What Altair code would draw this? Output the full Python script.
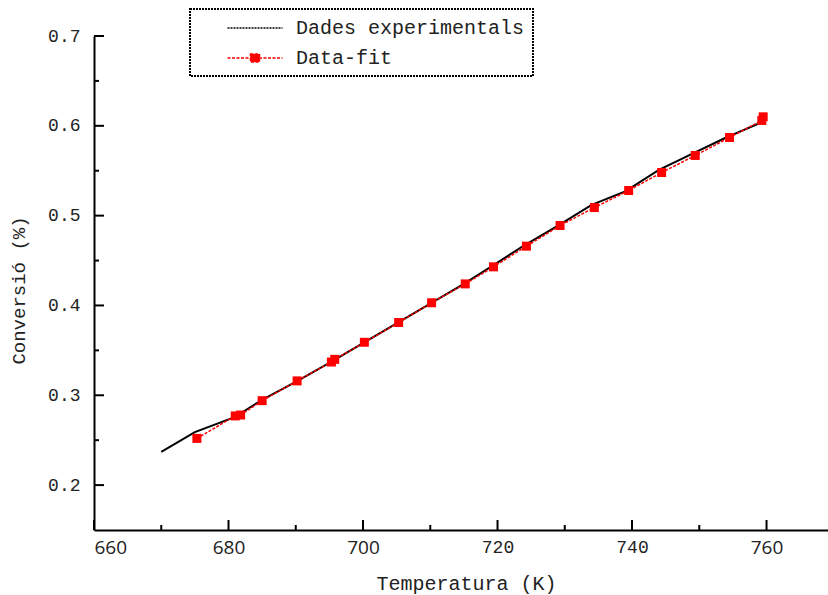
import altair as alt
import pandas as pd

# Experimental conversion vs temperature
exp_T = [670, 675, 681, 685, 690, 695, 700, 705, 710, 715, 719, 724, 729, 734, 739, 744, 749, 754, 759]
exp_X = [0.237, 0.259, 0.276, 0.295, 0.315, 0.336, 0.358, 0.380, 0.402, 0.424, 0.443, 0.467,
         0.489, 0.512, 0.527, 0.551, 0.569, 0.587, 0.603]

# Fitted model values
fit_T = [675.3, 681.0, 681.8, 685.0, 690.2, 695.3, 695.8, 700.2, 705.3, 710.2, 715.2, 719.4,
         724.3, 729.3, 734.4, 739.5, 744.4, 749.4, 754.5, 759.3, 759.5]
fit_X = [0.252, 0.277, 0.278, 0.294, 0.316, 0.337, 0.340, 0.359, 0.381, 0.403, 0.424, 0.443,
         0.466, 0.489, 0.509, 0.528, 0.548, 0.567, 0.587, 0.606, 0.610]

series_names = ["Dades experimentals", "Data-fit"]
series_colors = ["black", "red"]
series_dash = [[2, 1], [3, 1.5]]
series_shapes = [
    "M-2.75,0H2.75",
    "M-2.75,0H2.75M-0.45,-0.4H0.45V0.4H-0.45Z",
]

x_major = [660, 680, 700, 720, 740, 760]
x_minor = [670, 690, 710, 730, 750]
y_major = [0.2, 0.3, 0.4, 0.5, 0.6, 0.7]
y_minor = [0.25, 0.35, 0.45, 0.55, 0.65]

W, H = 734, 494

exp_df = pd.DataFrame({"T": exp_T, "v": exp_X})
fit_df = pd.DataFrame({"T": fit_T, "v": fit_X})

mono_ticks = "datum.value == 720 || datum.value == 740"

X = alt.X(
    "T:Q",
    scale=alt.Scale(domain=[660, 769.14], nice=False, zero=False),
    axis=alt.Axis(
        values=x_major, ticks=False, grid=False, format="d",
        domainColor="black", domainWidth=2,
        labelFont={"condition": {"test": mono_ticks, "value": "Liberation Mono"}, "value": "Open Sans"},
        labelFontSize={"condition": {"test": mono_ticks, "value": 18}, "value": 19},
        labelColor="#222", labelPadding=8, labelBaseline="top",
        title="Temperatura (K)", titleFont="Liberation Mono", titleFontSize=20,
        titleFontWeight="normal", titleColor="#222",
        titleX=372, titleY=59, titleAlign="center", titleBaseline="alphabetic",
    ),
)
Y = alt.Y(
    "v:Q",
    scale=alt.Scale(domain=[0.15, 0.7], nice=False, zero=False),
    axis=alt.Axis(
        values=y_major, ticks=False, grid=False, format=".1f",
        domainColor="black", domainWidth=2,
        labelFont="Liberation Mono", labelFontSize=18, labelColor="#222",
        labelPadding=14, labelBaseline="middle",
        title="Conversió (%)", titleFont="Liberation Mono", titleFontSize=19,
        titleFontWeight="normal", titleColor="#222",
        titleX=-76, titleY=254, titleAngle=270, titleAlign="center", titleBaseline="middle",
    ),
)

exp_line = alt.Chart(exp_df).mark_line(color="black", strokeWidth=2).encode(x=X, y=Y)
fit_line = alt.Chart(fit_df).mark_line(color="red", strokeWidth=1.5, strokeDash=[3, 1.5]).encode(x=X, y=Y)
fit_pts = alt.Chart(fit_df).mark_square(color="red", size=81, opacity=1, filled=True).encode(x=X, y=Y)

# Inward tick marks on both axes
ymaj = alt.Chart(pd.DataFrame({"v": y_major})).mark_rule(color="black", strokeWidth=2).encode(
    y=Y, x=alt.value(0), x2=alt.value(10))
ymin = alt.Chart(pd.DataFrame({"v": y_minor})).mark_rule(color="black", strokeWidth=2).encode(
    y=Y, x=alt.value(0), x2=alt.value(5))
xmaj = alt.Chart(pd.DataFrame({"T": x_major})).mark_rule(color="black", strokeWidth=2).encode(
    x=X, y=alt.value(H), y2=alt.value(H - 10))
xmin = alt.Chart(pd.DataFrame({"T": x_minor})).mark_rule(color="black", strokeWidth=2).encode(
    x=X, y=alt.value(H), y2=alt.value(H - 5))

# Legend-only layer (no rows drawn, entries come from the fixed domain)
leg_df = pd.DataFrame({"serie": series_names})
legend = alt.Legend(
    title=None, orient="none", legendX=96, legendY=-27,
    padding=8, rowPadding=9, symbolOffset=46, labelOffset=30, labelLimit=400,
    labelFont="Liberation Mono", labelFontSize=20, labelColor="#222",
    symbolSize=400, symbolStrokeWidth=1.5, symbolOpacity=1,
)
leg_layer = alt.Chart(leg_df).transform_filter("false").mark_point(filled=True, size=400, opacity=1).encode(
    fill=alt.Fill("serie:N", scale=alt.Scale(domain=series_names, range=series_colors), legend=legend),
    stroke=alt.Stroke("serie:N", scale=alt.Scale(domain=series_names, range=series_colors), legend=legend),
    shape=alt.Shape("serie:N", scale=alt.Scale(domain=series_names, range=series_shapes), legend=legend),
    strokeDash=alt.StrokeDash("serie:N", scale=alt.Scale(domain=series_names, range=series_dash), legend=legend),
)

chart = alt.layer(
    exp_line, fit_line, fit_pts, ymaj, ymin, xmaj, xmin, leg_layer
).properties(
    width=W, height=H,
    autosize=alt.AutoSizeParams(type="none"),
    padding={"left": 94, "top": 36, "right": 0, "bottom": 65},
    background="white",
).configure_view(
    stroke=None
).configure_legend(
    strokeColor="black", strokeDash=[2, 1], strokeWidth=2,
)

chart.save("out.html", embed_options={"renderer": "svg", "actions": False})
